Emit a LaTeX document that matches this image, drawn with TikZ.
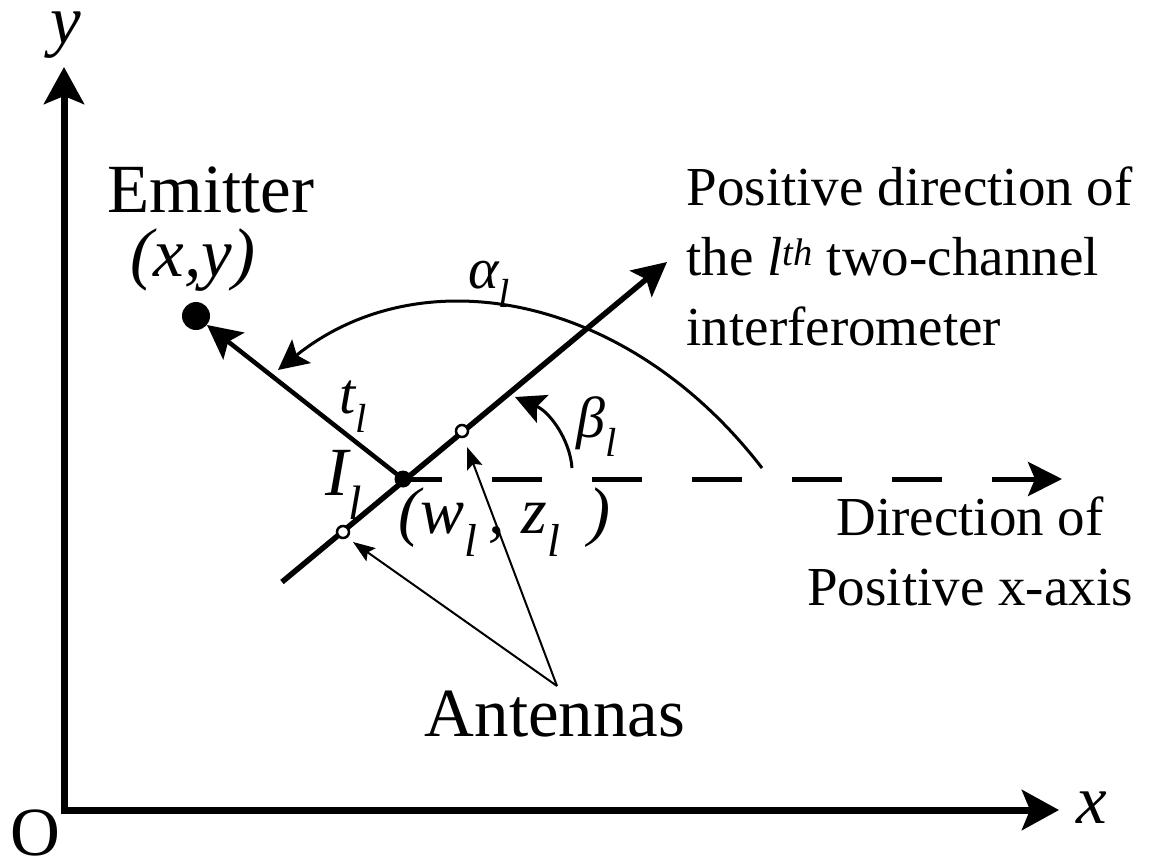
\documentclass[tikz,border=0pt]{standalone}
\usepackage{fontspec}
\setmainfont{Liberation Serif}
\usetikzlibrary{arrows.meta}
\begin{document}
\begin{tikzpicture}[x=1pt,y=-1pt,
  axistip/.style={-{Stealth[length=37pt,width=40pt,inset=8pt]}},
  bigtip/.style={-{Stealth[length=34pt,width=34pt,inset=7pt]}},
  midtip/.style={-{Stealth[length=30pt,width=30pt,inset=6pt]}},
  thintip/.style={-{Stealth[length=22pt,width=16pt,inset=4pt]}},
  dot/.style={circle,fill=black,inner sep=0pt},
  antenna/.style={circle,draw=black,fill=white,line width=2.5pt,minimum size=12pt,inner sep=0pt},
  big/.style={font=\fontsize{69}{80}\selectfont},
  mid/.style={font=\fontsize{58}{70}\selectfont\itshape},
  side/.style={font=\fontsize{55}{70}\selectfont},
]
\useasboundingbox (0,0) rectangle (1156,857);
% coordinates
\coordinate (O) at (64,810);
\coordinate (ytip) at (64,67);
\coordinate (xtip) at (1059,810);
\coordinate (Ic) at (403,479);
\coordinate (Ec) at (196,316);
\coordinate (et) at (207,325);
\coordinate (ia) at (282,582);
\coordinate (ib) at (667,262);
\coordinate (dtip) at (1062,479);
\coordinate (a0) at (762,468);
\coordinate (a1) at (278,370);
\coordinate (b0) at (572,468);
\coordinate (b1) at (515,397);
\coordinate (A1c) at (343,532);
\coordinate (A2c) at (462,431);
\coordinate (av) at (557,686);
\coordinate (at1) at (353,542);
\coordinate (at2) at (467,447);
% axes
\draw[line width=7pt, line join=miter, {Stealth[length=37pt,width=40pt,inset=8pt]}-{Stealth[length=37pt,width=40pt,inset=8pt]}] (ytip) -- (O) -- (xtip);
% dashed x-direction
\draw[line width=5pt, dash pattern=on 50pt off 50pt, dash phase=11pt, bigtip] (Ic) -- (dtip);
% interferometer line
\draw[line width=5.5pt, bigtip] (ia) -- (ib);
% emitter direction
\draw[line width=4.5pt, bigtip] (Ic) -- (et);
% alpha arc
\draw[line width=3pt, midtip] (a0) .. controls (628,294) and (422,255) .. (a1);
% beta arc
\draw[line width=3pt, midtip] (b0) .. controls (570,440) and (550,412) .. (b1);
% antenna pointers
\draw[line width=2pt, thintip] (av) -- (at1);
\draw[line width=2pt, thintip] (av) -- (at2);
% dots
\node[dot, minimum size=28pt] (E) at (Ec) {};
\node[dot, minimum size=17pt] (I) at (Ic) {};
\node[antenna] (A1) at (A1c) {};
\node[antenna] (A2) at (A2c) {};
% labels
\node[big, anchor=base, inner sep=0pt, text height=32pt, text depth=15pt] (ylab) at (66,43) {\itshape y};
\node[big, anchor=base] (xlab) at (1092,823) {\itshape x};
\node[big, anchor=base, inner sep=0pt, text height=46pt, text depth=0pt] (olab) at (35,855) {O};
\node[big, anchor=base] (emt) at (211,212) {Emitter};
\node[big, anchor=base] (xy) at (193,276) {\itshape (x,y)};
\node[mid, anchor=base west] (alab) at (465,288) {α\textsubscript{l}};
\node[mid, anchor=base west] (tlab) at (336,413) {t\textsubscript{l}};
\node[big, anchor=base west, font=\fontsize{69}{80}\selectfont\itshape] (Ilab) at (322,495) {I\textsubscript{l}};
\node[mid, anchor=base west] (blab) at (573,437) {β\textsubscript{l}};
\node[big, anchor=base west, font=\fontsize{66}{80}\selectfont\itshape] (wz) at (395,533) {(w\textsubscript{l}\,, z\textsubscript{l}\, )};
\node[side, anchor=base west, align=left] (pdir) at (683,345) {Positive direction of\\the \textit{l}\textsuperscript{\textit{th}} two-channel\\interferometer};
\node[side, anchor=base, align=center] (dlab) at (970,605) {Direction of\\Positive x-axis};
\node[big, anchor=base] (ant) at (555,736) {Antennas};
\end{tikzpicture}
\end{document}
